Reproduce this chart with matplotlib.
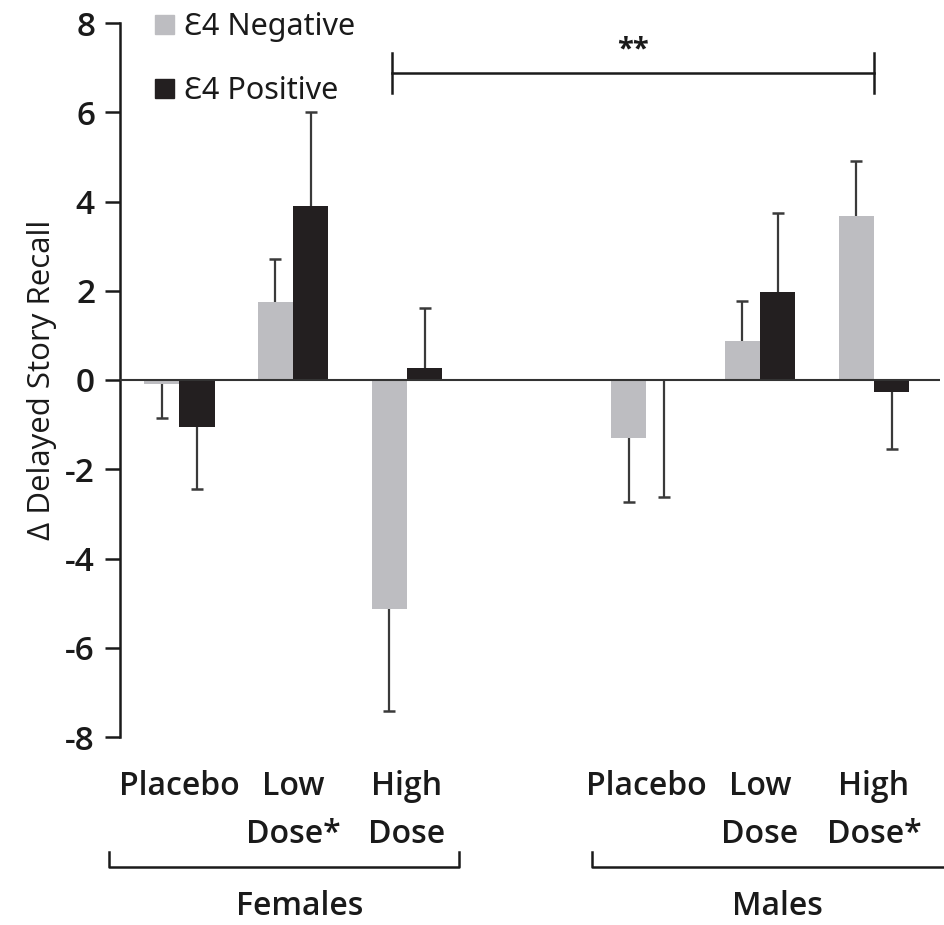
import numpy as np
import matplotlib
matplotlib.use("Agg")
import matplotlib.pyplot as plt
from matplotlib.patches import Patch
from matplotlib.transforms import blended_transform_factory

plt.rcParams['font.family'] = ['Open Sans', 'DejaVu Sans']
plt.rcParams['axes.unicode_minus'] = False

# data
conditions = ["Placebo", "Low\nDose*", "High\nDose", "Placebo", "Low\nDose", "High\nDose*"]
x_pos = np.array([0.0, 1.0, 2.0, 4.1, 5.1, 6.1])
neg_mean = np.array([-0.08, 1.75, -5.13, -1.30, 0.88, 3.68])
neg_err = np.array([0.77, 0.96, 2.29, 1.43, 0.89, 1.23])
pos_mean = np.array([-1.05, 3.90, 0.27, -0.03, 1.97, -0.28])
pos_err = np.array([1.39, 2.10, 1.34, 2.59, 1.77, 1.27])
series_labels = ["\u01904 Negative", "\u01904 Positive"]
groups = ["Females", "Males"]
group_centers = [1.06, 5.25]

gray = "#bdbdc1"
black = "#231f20"
ecol = "#3a3a3a"
txt = "#1a1a1a"
w = 0.31
wt = "semibold"

fig = plt.figure(figsize=(9.44, 9.25), dpi=100)
ax = fig.add_axes([120 / 944, 1 - 737 / 925, 820 / 944, 714 / 925])


def draw_errs(x, mean, err):
    # one-sided error bars pointing away from zero
    end = mean + np.sign(mean) * err
    ax.vlines(x, mean, end, color=ecol, lw=1.6, zorder=1)
    ax.plot(x, end, ls="none", marker="_", ms=9, mew=1.8, color=ecol, zorder=1)


ax.bar(x_pos - w / 2, neg_mean, width=w, color=gray, zorder=2)
ax.bar(x_pos + w / 2, pos_mean, width=w, color=black, zorder=2)
draw_errs(x_pos - w / 2, neg_mean, neg_err)
draw_errs(x_pos + w / 2, pos_mean, pos_err)

ax.axhline(0, color="#333333", lw=1.5, zorder=3)

ax.set_xlim(-0.52, 6.68)
ax.set_ylim(-8, 8)
ax.set_yticks(np.arange(-8, 9, 2))
for s in ["top", "right", "bottom"]:
    ax.spines[s].set_visible(False)
ax.spines["left"].set_linewidth(1.8)
ax.spines["left"].set_color(txt)
ax.tick_params(axis="y", direction="out", length=11, width=1.8, pad=7,
               labelsize=24, colors=txt)
for lbl in ax.get_yticklabels():
    lbl.set_fontweight(wt)
ax.set_ylabel("\u0394 Delayed Story Recall", fontsize=22.5, labelpad=6, color=txt)

ax.set_xticks(x_pos)
ax.set_xticklabels(conditions, fontsize=23, color=txt, fontweight=wt)
ax.tick_params(axis="x", length=0, pad=24)
for lbl in ax.get_xticklabels():
    lbl.set_linespacing(1.6)

# significance bar
sx0, sx1, sy = x_pos[2] - 0.13, x_pos[5], 6.88
ax.plot([sx0, sx1], [sy, sy], color=txt, lw=1.8, clip_on=False)
ax.plot([sx0, sx0], [sy - 0.45, sy + 0.45], color=txt, lw=1.8, clip_on=False)
ax.plot([sx1, sx1], [sy - 0.45, sy + 0.45], color=txt, lw=1.8, clip_on=False)
ax.text((sx0 + sx1) / 2, sy + 0.2, "**", ha="center", va="bottom", fontsize=21,
        fontweight="bold", color=txt)

# group brackets under the axis
bt = blended_transform_factory(ax.transData, ax.transAxes)
for (a, b) in [(-0.62, 2.46), (3.62, 6.72)]:
    ax.plot([a, a, b, b], [-0.161, -0.182, -0.182, -0.161], color=txt,
            lw=1.8, transform=bt, clip_on=False)
for g, c in zip(groups, group_centers):
    ax.text(c, -0.238, g, transform=bt, ha="center", va="center", fontsize=23,
            color=txt, fontweight=wt)

handles = [Patch(color=gray), Patch(color=black)]
leg = ax.legend(handles, series_labels, loc="upper left", bbox_to_anchor=(0.028, 1.032),
                frameon=False, handlelength=0.6, handleheight=0.6,
                handletextpad=0.35, labelspacing=1.1, borderaxespad=0,
                prop={"family": ["Noto Sans", "DejaVu Sans"], "size": 22, "weight": wt})
for t in leg.get_texts():
    t.set_color(txt)

fig.savefig("out.png", dpi=100)
